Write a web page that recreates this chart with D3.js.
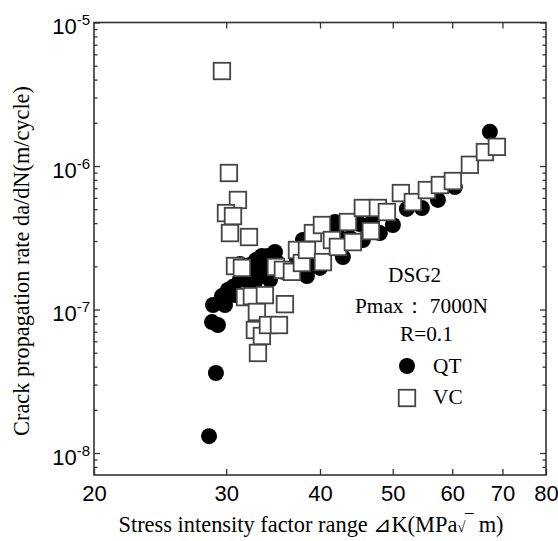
<!DOCTYPE html>
<html>
<head>
<meta charset="utf-8">
<script src="https://cdn.jsdelivr.net/npm/d3@7"></script>
<style>
  body { margin: 0; background: #fff; }
  svg { display: block; }
  .tick-label { font-family: "Liberation Sans", Arial, sans-serif; font-size: 22px; fill: #000; }
  .serif { font-family: "Liberation Serif", "Times New Roman", serif; fill: #000; }
</style>
</head>
<body>
<div id="chart"></div>
<script>
// x: stress intensity factor range (MPa√m), y: da/dN (m/cycle)
var xTicks = [20, 30, 40, 50, 60, 70, 80];
var yDecades = [1e-8, 1e-7, 1e-6, 1e-5];

var qtK = [28.46, 29.07, 28.72, 29.25, 28.81, 29.61, 30.16, 30.63, 31.29, 31.97,
           32.76, 33.47, 34.10, 34.84, 34.31, 35.70, 36.70, 37.27, 37.96, 38.43,
           39.02, 39.99, 42.13, 41.87, 42.91, 43.84, 45.20, 45.62, 46.90, 48.06,
           50.02, 52.21, 54.67, 57.42, 60.49, 67.35,
           29.89, 30.82, 31.29, 31.58, 32.27, 32.86, 33.47, 34.31, 35.05, 32.76, 33.58];
var qtRate = [1.31e-8, 3.61e-8, 8.18e-8, 7.80e-8, 1.075e-7, 1.24e-7, 1.37e-7, 1.44e-7, 2.08e-7, 1.61e-7,
              1.80e-7, 2.11e-7, 2.36e-7, 2.52e-7, 1.61e-7, 1.83e-7, 1.83e-7, 2.21e-7, 3.05e-7, 1.71e-7,
              2.14e-7, 1.95e-7, 3.41e-7, 4.07e-7, 2.32e-7, 3.15e-7, 3.94e-7, 3.05e-7, 4.07e-7, 3.41e-7,
              3.88e-7, 5.02e-7, 5.10e-7, 5.80e-7, 7.14e-7, 1.73e-6,
              1.075e-7, 1.26e-7, 1.61e-7, 1.83e-7, 2.04e-7, 2.21e-7, 2.36e-7, 2.14e-7, 2.14e-7, 1.55e-7, 1.71e-7];

var vcK = [29.61, 30.25, 31.10, 29.98, 30.63, 30.35, 32.17, 30.82, 31.48, 31.78,
           32.46, 33.78, 34.94, 35.92, 32.96, 32.76, 33.47, 34.10, 35.27, 33.07,
           35.70, 36.70, 37.27, 37.84, 38.43, 39.14, 40.24, 40.36, 41.49, 42.26,
           43.57, 44.24, 45.62, 46.76, 47.77, 49.11, 51.26, 53.18, 55.51, 57.77,
           60.12, 63.34, 66.33, 68.81];
var vcRate = [4.59e-6, 8.94e-7, 5.80e-7, 4.70e-7, 4.48e-7, 3.41e-7, 3.20e-7, 2.01e-7, 1.95e-7, 1.22e-7,
              1.24e-7, 1.26e-7, 1.98e-7, 1.09e-7, 9.61e-8, 7.20e-8, 6.54e-8, 7.80e-8, 7.80e-8, 4.98e-8,
              1.89e-7, 1.83e-7, 2.60e-7, 2.11e-7, 2.60e-7, 3.41e-7, 3.88e-7, 2.14e-7, 3.05e-7, 2.73e-7,
              4.07e-7, 2.95e-7, 5.10e-7, 3.52e-7, 5.10e-7, 4.78e-7, 6.48e-7, 5.61e-7, 6.80e-7, 7.37e-7,
              7.86e-7, 1.02e-6, 1.25e-6, 1.36e-6];

var legendLines = ["DSG2", "Pmax： 7000N", "R=0.1"];
var seriesNames = ["QT", "VC"];

var width = 558, height = 541;
var plotL = 94, plotR = 546, plotT = 22.5, plotB = 475;

var svg = d3.select("#chart").append("svg")
    .attr("width", width)
    .attr("height", height);

var x = d3.scaleLog().domain([20, 80]).range([plotL, plotR]);
var y = d3.scaleLog().domain([7.03e-9, 1e-5]).range([plotB, plotT]);

// minor ticks for y: 2..9 times each decade
var yMinor = [];
[1e-9, 1e-8, 1e-7, 1e-6].forEach(function(d) {
    for (var m = 2; m <= 9; m++) {
        var v = d * m;
        if (v >= y.domain()[0] && v <= 1e-5) yMinor.push(v);
    }
});

// axes
var xAxis = svg.append("g")
    .attr("transform", "translate(0," + plotB + ")")
    .call(d3.axisBottom(x).tickValues(xTicks).tickSize(-6).tickPadding(10)
        .tickFormat(d3.format("d")));
xAxis.selectAll("text").attr("class", "tick-label").attr("font-size", null).attr("font-family", null);

svg.append("g")
    .attr("transform", "translate(0," + plotT + ")")
    .call(d3.axisTop(x).tickValues(xTicks.slice(1, -1)).tickSize(-6).tickFormat(""));

var yAxis = svg.append("g")
    .attr("transform", "translate(" + plotL + ",0)")
    .call(d3.axisLeft(y).tickValues(yDecades).tickSize(-6).tickPadding(4).tickFormat(""));

yAxis.selectAll(".tick text")
    .attr("class", "tick-label")
    .attr("font-size", null).attr("font-family", null)
    .attr("dy", "0.5em")
    .each(function(d) {
        var t = d3.select(this);
        t.append("tspan").text("10");
        t.append("tspan").attr("dy", "-0.6em").attr("font-size", "15px")
            .text(String(Math.round(Math.log10(d))));
    });

svg.append("g")
    .attr("transform", "translate(" + plotL + ",0)")
    .call(d3.axisLeft(y).tickValues(yMinor).tickSize(-3.5).tickFormat(""));

svg.append("g")
    .attr("transform", "translate(" + plotR + ",0)")
    .call(d3.axisRight(y).tickValues(yDecades).tickSize(-6).tickFormat(""));
svg.append("g")
    .attr("transform", "translate(" + plotR + ",0)")
    .call(d3.axisRight(y).tickValues(yMinor).tickSize(-3.5).tickFormat(""));

svg.selectAll(".domain").remove();
svg.selectAll(".tick line").attr("stroke", "#333").attr("stroke-width", 1.3);

// frame
svg.append("rect")
    .attr("x", plotL).attr("y", plotT)
    .attr("width", plotR - plotL).attr("height", plotB - plotT)
    .attr("fill", "none").attr("stroke", "#333").attr("stroke-width", 1.6);

// data
var qt = d3.zip(qtK, qtRate);
var vc = d3.zip(vcK, vcRate);
var side = 16.5;

svg.append("g").selectAll("circle")
    .data(qt).enter().append("circle")
    .attr("cx", function(d) { return x(d[0]); })
    .attr("cy", function(d) { return y(d[1]); })
    .attr("r", 8)
    .attr("fill", "#000");

svg.append("g").selectAll("rect")
    .data(vc).enter().append("rect")
    .attr("x", function(d) { return x(d[0]) - side / 2; })
    .attr("y", function(d) { return y(d[1]) - side / 2; })
    .attr("width", side).attr("height", side)
    .attr("fill", "#fff")
    .attr("stroke", "#444")
    .attr("stroke-width", 1.8);

// axis titles
svg.append("text")
    .attr("class", "serif")
    .attr("x", 311).attr("y", 532)
    .attr("text-anchor", "middle")
    .attr("font-size", "22.4px")
    .html("Stress intensity factor range ⊿K(MPa<tspan font-size='15px'>√</tspan><tspan>‾</tspan> m)");

svg.append("text")
    .attr("class", "serif")
    .attr("transform", "translate(29,261) rotate(-90)")
    .attr("text-anchor", "middle")
    .attr("font-size", "22.3px")
    .text("Crack propagation rate da/dN(m/cycle)");

// legend
var lg = svg.append("g").attr("class", "serif").attr("font-size", "21.3px");
var lgX = [388, 355, 400];
var lgY = [282, 313, 341];
legendLines.forEach(function(s, i) {
    lg.append("text").attr("x", lgX[i]).attr("y", lgY[i]).text(s);
});
lg.append("circle").attr("cx", 407).attr("cy", 366).attr("r", 8).attr("fill", "#000");
lg.append("text").attr("x", 433).attr("y", 373).text(seriesNames[0]);
lg.append("rect").attr("x", 407 - side / 2).attr("y", 398 - side / 2)
    .attr("width", side).attr("height", side)
    .attr("fill", "#fff").attr("stroke", "#444").attr("stroke-width", 1.8);
lg.append("text").attr("x", 433).attr("y", 404).text(seriesNames[1]);
</script>
</body>
</html>
